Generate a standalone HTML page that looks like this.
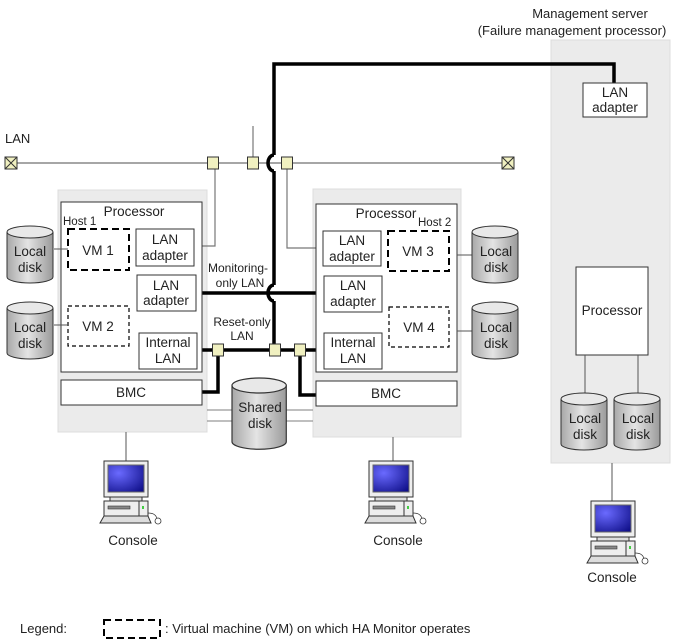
<!DOCTYPE html>
<html><head><meta charset="utf-8"><style>
html,body{margin:0;padding:0;background:#fff;}
svg{display:block;}
text{font-family:"Liberation Sans",Arial,sans-serif;fill:#222;}
</style></head><body>
<svg width="677" height="643" viewBox="0 0 677 643" xmlns="http://www.w3.org/2000/svg">
<defs>
<linearGradient id="cyl" x1="0" x2="1" y1="0" y2="0">
<stop offset="0" stop-color="#a8a8a8"/><stop offset="0.45" stop-color="#e4e4e4"/><stop offset="1" stop-color="#9a9a9a"/>
</linearGradient>
<radialGradient id="scr" cx="0.3" cy="0.3" r="0.9">
<stop offset="0" stop-color="#6a6aff"/><stop offset="1" stop-color="#10108a"/>
</radialGradient>
<g id="disk">
<path d="M0,6 L0,51 A23,6 0 0 0 46,51 L46,6" fill="url(#cyl)" stroke="#333" stroke-width="1"/>
<ellipse cx="23" cy="6" rx="23" ry="6" fill="#e8e8e8" stroke="#333" stroke-width="1"/>
</g>
<g id="pc">
<rect x="0" y="0" width="44" height="36" fill="#eee" stroke="#333"/>
<rect x="4" y="4" width="36" height="27" fill="url(#scr)" stroke="#666"/>
<rect x="6" y="36" width="32" height="4" fill="#ddd" stroke="#333"/>
<rect x="0" y="40" width="44" height="15" fill="#eee" stroke="#333"/>
<rect x="4" y="45" width="22" height="3" fill="#888" stroke="#333" stroke-width="0.6"/>
<line x1="35" y1="40" x2="35" y2="55" stroke="#333"/>
<rect x="38" y="45" width="2" height="3" fill="#4c4"/>
<path d="M-4,62 L0,55 L44,55 L47,62 Z" fill="#ddd" stroke="#333"/>
<path d="M44,52 Q52,52 53,58" fill="none" stroke="#333" stroke-width="0.7"/>
<circle cx="54" cy="60" r="3" fill="#fff" stroke="#333" stroke-width="0.8"/>
</g>
<g id="sq"><rect x="-5.5" y="-6" width="11" height="12" fill="#f0f0c0" stroke="#333"/></g>
<g id="term"><rect x="-6" y="-6" width="12" height="12" fill="#f0f0c0" stroke="#333"/><path d="M-6,-6 L6,6 M6,-6 L-6,6" stroke="#333"/></g>
</defs>

<rect x="58" y="190" width="149" height="242" fill="#ebebeb" stroke="#ddd"/>
<rect x="313" y="189" width="148" height="248" fill="#ebebeb" stroke="#ddd"/>
<rect x="551" y="40" width="119" height="423" fill="#ebebeb" stroke="#ddd"/>

<text x="590" y="18" font-size="13" text-anchor="middle">Management server</text>
<text x="572" y="35" font-size="13" text-anchor="middle">(Failure management processor)</text>
<text x="5" y="143" font-size="13">LAN</text>

<line x1="11" y1="163" x2="508" y2="163" stroke="#888" stroke-width="1.5"/>
<line x1="253" y1="126" x2="253" y2="163" stroke="#777" stroke-width="1.2"/>
<polyline points="215,163 215,246 194,246" fill="none" stroke="#777" stroke-width="1.2"/>
<polyline points="287,163 287,248 323,248" fill="none" stroke="#777" stroke-width="1.2"/>

<line x1="207" y1="410" x2="313" y2="410" stroke="#999" stroke-width="1.2"/>
<line x1="207" y1="421" x2="313" y2="421" stroke="#999" stroke-width="1.2"/>

<polyline points="274,155 274,64 614,64 614,83" fill="none" stroke="#000" stroke-width="3.5"/>
<path d="M274,155 A6,8 0 0 0 274,171" fill="none" stroke="#000" stroke-width="3.5"/>
<line x1="274" y1="171" x2="274" y2="285" stroke="#000" stroke-width="3.5"/>
<path d="M274,285 A6,8 0 0 0 274,301" fill="none" stroke="#000" stroke-width="3.5"/>
<line x1="274" y1="301" x2="274" y2="350" stroke="#000" stroke-width="3.5"/>
<line x1="196" y1="293" x2="324" y2="293" stroke="#000" stroke-width="3.5"/>
<line x1="197" y1="350" x2="324" y2="350" stroke="#000" stroke-width="3.5"/>
<polyline points="218,350 218,392 202,392" fill="none" stroke="#000" stroke-width="3.5"/>
<polyline points="300,350 300,395 316,395" fill="none" stroke="#000" stroke-width="3.5"/>

<use href="#term" x="11" y="163"/>
<use href="#term" x="508" y="163"/>
<use href="#sq" x="213" y="163"/>
<use href="#sq" x="253" y="163"/>
<use href="#sq" x="287" y="163"/>
<use href="#sq" x="218" y="350"/>
<use href="#sq" x="275" y="350"/>
<use href="#sq" x="300" y="350"/>

<text x="238" y="272" font-size="12" text-anchor="middle">Monitoring-</text>
<text x="240" y="287" font-size="12" text-anchor="middle">only LAN</text>
<text x="242" y="326" font-size="12" text-anchor="middle">Reset-only</text>
<text x="242" y="340" font-size="12" text-anchor="middle">LAN</text>

<rect x="61" y="202" width="141" height="170" fill="#fff" stroke="#333"/>
<text x="134" y="216" font-size="13.5" text-anchor="middle">Processor</text>
<text x="63" y="225" font-size="11.5">Host 1</text>
<rect x="68" y="229" width="61" height="41" fill="#fff" stroke="#000" stroke-width="2" stroke-dasharray="7,4"/>
<text x="98" y="255" font-size="13.5" text-anchor="middle">VM 1</text>
<rect x="68" y="306" width="61" height="40" fill="#fff" stroke="#000" stroke-width="1.2" stroke-dasharray="4,3"/>
<text x="98" y="331" font-size="13.5" text-anchor="middle">VM 2</text>
<rect x="136" y="229" width="58" height="37" fill="#fff" stroke="#333"/>
<text x="165" y="244" font-size="13.5" text-anchor="middle">LAN</text>
<text x="165" y="260" font-size="13.5" text-anchor="middle">adapter</text>
<rect x="137" y="275" width="59" height="36" fill="#fff" stroke="#333"/>
<text x="166" y="290" font-size="13.5" text-anchor="middle">LAN</text>
<text x="166" y="305" font-size="13.5" text-anchor="middle">adapter</text>
<rect x="139" y="333" width="58" height="36" fill="#fff" stroke="#333"/>
<text x="168" y="347" font-size="13.5" text-anchor="middle">Internal</text>
<text x="168" y="363" font-size="13.5" text-anchor="middle">LAN</text>
<rect x="61" y="380" width="141" height="25" fill="#fff" stroke="#333"/>
<text x="131" y="397" font-size="13.5" text-anchor="middle">BMC</text>
<line x1="54" y1="249" x2="68" y2="249" stroke="#555"/>
<line x1="54" y1="325" x2="68" y2="325" stroke="#555"/>
<use href="#disk" x="7" y="226"/>
<text x="30" y="256" font-size="13.5" text-anchor="middle">Local</text>
<text x="30" y="272" font-size="13.5" text-anchor="middle">disk</text>
<use href="#disk" x="7" y="302"/>
<text x="30" y="332" font-size="13.5" text-anchor="middle">Local</text>
<text x="30" y="348" font-size="13.5" text-anchor="middle">disk</text>

<rect x="316" y="204" width="141" height="168" fill="#fff" stroke="#333"/>
<text x="386" y="218" font-size="13.5" text-anchor="middle">Processor</text>
<text x="418" y="226" font-size="11.5">Host 2</text>
<rect x="323" y="231" width="58" height="35" fill="#fff" stroke="#333"/>
<text x="352" y="245" font-size="13.5" text-anchor="middle">LAN</text>
<text x="352" y="261" font-size="13.5" text-anchor="middle">adapter</text>
<rect x="324" y="276" width="58" height="36" fill="#fff" stroke="#333"/>
<text x="353" y="290" font-size="13.5" text-anchor="middle">LAN</text>
<text x="353" y="306" font-size="13.5" text-anchor="middle">adapter</text>
<rect x="324" y="333" width="58" height="36" fill="#fff" stroke="#333"/>
<text x="353" y="347" font-size="13.5" text-anchor="middle">Internal</text>
<text x="353" y="363" font-size="13.5" text-anchor="middle">LAN</text>
<rect x="388" y="231" width="61" height="40" fill="#fff" stroke="#000" stroke-width="2" stroke-dasharray="7,4"/>
<text x="418" y="256" font-size="13.5" text-anchor="middle">VM 3</text>
<rect x="389" y="307" width="60" height="40" fill="#fff" stroke="#000" stroke-width="1.2" stroke-dasharray="4,3"/>
<text x="419" y="332" font-size="13.5" text-anchor="middle">VM 4</text>
<rect x="316" y="381" width="141" height="25" fill="#fff" stroke="#333"/>
<text x="386" y="398" font-size="13.5" text-anchor="middle">BMC</text>
<line x1="457" y1="255" x2="472" y2="255" stroke="#555"/>
<line x1="457" y1="331" x2="472" y2="331" stroke="#555"/>
<use href="#disk" x="472" y="226"/>
<text x="496" y="256" font-size="13.5" text-anchor="middle">Local</text>
<text x="496" y="272" font-size="13.5" text-anchor="middle">disk</text>
<use href="#disk" x="472" y="302"/>
<text x="496" y="332" font-size="13.5" text-anchor="middle">Local</text>
<text x="496" y="348" font-size="13.5" text-anchor="middle">disk</text>

<g transform="translate(232,378) scale(1.18,1.25)"><use href="#disk"/></g>
<text x="260" y="412" font-size="13.5" text-anchor="middle">Shared</text>
<text x="260" y="428" font-size="13.5" text-anchor="middle">disk</text>

<rect x="583" y="83" width="64" height="34" fill="#fff" stroke="#333"/>
<text x="615" y="97" font-size="13.5" text-anchor="middle">LAN</text>
<text x="615" y="112" font-size="13.5" text-anchor="middle">adapter</text>
<rect x="576" y="267" width="72" height="88" fill="#fff" stroke="#333"/>
<text x="612" y="315" font-size="13.5" text-anchor="middle">Processor</text>
<line x1="585" y1="355" x2="585" y2="395" stroke="#555"/>
<line x1="638" y1="355" x2="638" y2="395" stroke="#555"/>
<use href="#disk" x="561" y="393"/>
<text x="585" y="423" font-size="13.5" text-anchor="middle">Local</text>
<text x="585" y="439" font-size="13.5" text-anchor="middle">disk</text>
<use href="#disk" x="614" y="393"/>
<text x="638" y="423" font-size="13.5" text-anchor="middle">Local</text>
<text x="638" y="439" font-size="13.5" text-anchor="middle">disk</text>

<line x1="126" y1="432" x2="126" y2="461" stroke="#555"/>
<use href="#pc" x="104" y="461"/>
<text x="133" y="545" font-size="13.5" text-anchor="middle">Console</text>
<line x1="393" y1="437" x2="393" y2="461" stroke="#555"/>
<use href="#pc" x="369" y="461"/>
<text x="398" y="545" font-size="13.5" text-anchor="middle">Console</text>
<line x1="612" y1="463" x2="612" y2="501" stroke="#555"/>
<use href="#pc" x="591" y="501"/>
<text x="612" y="582" font-size="13.5" text-anchor="middle">Console</text>

<text x="20" y="633" font-size="13">Legend:</text>
<rect x="104" y="620" width="56" height="18" fill="none" stroke="#000" stroke-width="2" stroke-dasharray="7,4"/>
<text x="165" y="633" font-size="13">: Virtual machine (VM) on which HA Monitor operates</text>
</svg>
</body></html>
